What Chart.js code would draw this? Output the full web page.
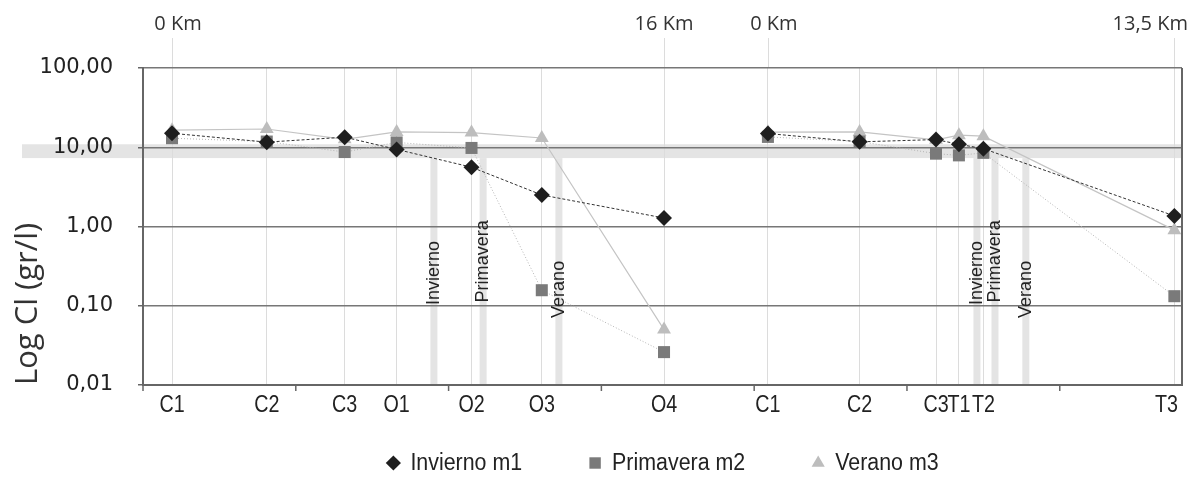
<!DOCTYPE html>
<html>
<head>
<meta charset="utf-8">
<script src="https://cdn.jsdelivr.net/npm/chart.js@4.4.1/dist/chart.umd.min.js"></script>
<style>
  html, body { margin: 0; padding: 0; background: #fff; }
  #wrap { width: 1194px; height: 477px; }
</style>
</head>
<body>
<div id="wrap"><canvas id="myChart" width="1194" height="477"></canvas></div>
<script>
// stations along the two transects (x = position along the axis)
const stations = ['C1', 'C2', 'C3', 'O1', 'O2', 'O3', 'O4', 'C1', 'C2', 'C3', 'T1', 'T2', 'T3'];
const xPos = [0.95, 4.05, 6.6, 8.3, 10.75, 13.05, 17.05, 20.45, 23.45, 25.95, 26.7, 27.5, 33.75];
const breakAfter = 6; // no line between O4 and the second C1

const invierno = [15.0, 11.6, 13.4, 9.4, 5.6, 2.5, 1.28, 14.9, 11.7, 12.5, 10.9, 9.6, 1.36];
const primavera = [13.0, 11.8, 8.7, 11.5, 9.8, 0.157, 0.026, 13.5, 11.8, 8.3, 7.9, 8.5, 0.132];
const verano = [16.4, 17.0, 12.6, 15.6, 15.3, 13.1, 0.050, 15.5, 15.6, 12.4, 14.2, 13.8, 0.90];

const yTicks = [0.01, 0.1, 1, 10, 100];
const kmLabels = ['0 Km', '16 Km', '0 Km', '13,5 Km'];
const kmIndex = [0, 6, 7, 12];

const seasonNames = ['Invierno', 'Primavera', 'Verano', 'Invierno', 'Primavera', 'Verano'];
const seasonX = [9.52, 11.13, 13.61, 27.29, 27.88, 28.89];
const band = [7.3, 10.9]; // grey band round 10 gr/l

const sans = "'Liberation Sans', Arial, sans-serif";

function toPoints(vals) {
  const pts = [];
  vals.forEach((v, i) => {
    pts.push({x: xPos[i], y: v});
    if (i === breakAfter) pts.push({x: (xPos[i] + xPos[i + 1]) / 2, y: null});
  });
  return pts;
}

// text squeezed sideways, like the narrow font of the original
function narrowText(ctx, txt, x, y, sx) {
  ctx.save();
  ctx.translate(x, y);
  ctx.scale(sx, 1);
  ctx.fillText(txt, 0, 0);
  ctx.restore();
}

const extras = {
  id: 'extras',
  beforeDraw(chart) {
    const {ctx, chartArea: a, scales: {x, y}} = chart;
    ctx.save();
    const yHi = y.getPixelForValue(band[1]);
    const yLo = y.getPixelForValue(band[0]);
    ctx.fillStyle = '#e4e4e4';
    ctx.fillRect(22, yHi, a.right - 22, yLo - yHi);
    seasonX.forEach(v => {
      const px = x.getPixelForValue(v);
      ctx.fillRect(px - 3.5, yLo, 7, a.bottom - yLo);
    });
    // vertical lines reaching up to the km labels
    ctx.strokeStyle = '#dcdcdc';
    ctx.lineWidth = 1;
    kmIndex.forEach(i => {
      const px = Math.round(x.getPixelForValue(xPos[i])) + 0.5;
      ctx.beginPath();
      ctx.moveTo(px, 38);
      ctx.lineTo(px, a.top);
      ctx.stroke();
    });
    ctx.restore();
  },
  afterDraw(chart) {
    const {ctx, chartArea: a, scales: {x, y}} = chart;
    ctx.save();
    // right frame
    ctx.strokeStyle = '#666';
    ctx.lineWidth = 2;
    ctx.beginPath();
    ctx.moveTo(a.right, a.top);
    ctx.lineTo(a.right, a.bottom);
    ctx.stroke();
    // tick marks every 5 units on x
    ctx.lineWidth = 1.5;
    for (let v = 0; v <= 34; v += 5) {
      const px = x.getPixelForValue(v);
      ctx.beginPath();
      ctx.moveTo(px, a.bottom);
      ctx.lineTo(px, a.bottom + 6);
      ctx.stroke();
    }
    // station names under the axis
    ctx.fillStyle = '#222';
    ctx.font = '24px ' + sans;
    ctx.textAlign = 'center';
    ctx.textBaseline = 'alphabetic';
    stations.forEach((s, i) => {
      const w = ctx.measureText(s).width * 0.82;
      let px = x.getPixelForValue(xPos[i]);
      if (px + w / 2 > a.right - 4) px = a.right - 4 - w / 2;
      narrowText(ctx, s, px, 412, 0.82);
    });
    // season labels, rotated
    ctx.font = '19px ' + sans;
    ctx.textAlign = 'left';
    ctx.textBaseline = 'middle';
    const bottoms = {Invierno: 0.102, Primavera: 0.11, Verano: 0.07};
    seasonNames.forEach((s, i) => {
      const px = x.getPixelForValue(seasonX[i]);
      const py = y.getPixelForValue(bottoms[s]);
      ctx.save();
      ctx.translate(px, py);
      ctx.rotate(-Math.PI / 2);
      ctx.scale(0.95, 1);
      ctx.fillText(s, 0, 0);
      ctx.restore();
    });
    // km labels on top
    ctx.font = "20px 'Open Sans', sans-serif";
    ctx.fillStyle = '#333';
    ctx.textBaseline = 'alphabetic';
    kmIndex.forEach((idx, k) => {
      const w = ctx.measureText(kmLabels[k]).width;
      let px = x.getPixelForValue(xPos[idx]) - w / 2;
      if (kmLabels[k] === '0 Km') px += 6;
      if (px + w > chart.width - 6) px = chart.width - 6 - w;
      ctx.fillText(kmLabels[k], px, 30);
    });
    // legend
    ctx.font = '23.5px ' + sans;
    const sx = 0.91;
    const items = chart.data.datasets;
    const mark = 14, gapIn = 10, gapOut = 66;
    const widths = items.map(d => mark + gapIn + ctx.measureText(d.label).width * sx);
    const total = widths.reduce((s, w) => s + w, 0) + gapOut * (items.length - 1);
    let cx = (a.left + a.right) / 2 - total / 2;
    const ly = 463;
    items.forEach((d, i) => {
      ctx.fillStyle = d.pointBackgroundColor;
      Chart.helpers.drawPoint(ctx, {
        pointStyle: d.pointStyle, radius: d.pointRadius * 0.95, rotation: 0, borderWidth: 0
      }, cx + mark / 2, ly);
      ctx.fillStyle = '#222';
      ctx.textAlign = 'left';
      ctx.textBaseline = 'middle';
      narrowText(ctx, d.label, cx + mark + gapIn, ly + 1, sx);
      cx += widths[i] + gapOut;
    });
    ctx.restore();
  }
};

new Chart(document.getElementById('myChart'), {
  type: 'line',
  data: {
    datasets: [{
      label: 'Invierno m1',
      data: toPoints(invierno),
      borderColor: '#333',
      borderWidth: 1,
      borderDash: [3, 2],
      pointStyle: 'rectRot',
      pointRadius: 8,
      pointBackgroundColor: '#1e1e1e',
      pointBorderWidth: 0
    }, {
      label: 'Primavera m2',
      data: toPoints(primavera),
      borderColor: '#b5b5b5',
      borderWidth: 1,
      borderDash: [1, 2],
      pointStyle: 'rect',
      pointRadius: 8.5,
      pointBackgroundColor: '#7a7a7a',
      pointBorderWidth: 0
    }, {
      label: 'Verano m3',
      data: toPoints(verano),
      borderColor: '#c4c4c4',
      borderWidth: 1.2,
      pointStyle: 'triangle',
      pointRadius: 8,
      pointBackgroundColor: '#bdbdbd',
      pointBorderWidth: 0
    }]
  },
  options: {
    responsive: false,
    animation: false,
    spanGaps: false,
    layout: {padding: {top: 68, right: 12, left: 0, bottom: 0}},
    plugins: {legend: {display: false}, tooltip: {enabled: false}},
    scales: {
      x: {
        type: 'linear',
        min: 0,
        max: 34,
        afterBuildTicks: s => { s.ticks = xPos.map(v => ({value: v})); },
        afterFit: s => { s.height = 92; },
        grid: {color: '#dcdcdc', lineWidth: 1, drawTicks: false},
        border: {color: '#666', width: 2},
        ticks: {display: false, autoSkip: false}
      },
      y: {
        type: 'logarithmic',
        min: 0.01,
        max: 100,
        afterBuildTicks: s => { s.ticks = yTicks.map(v => ({value: v})); },
        afterFit: s => { s.width = 143; },
        grid: {color: '#777', lineWidth: 1.5, tickLength: 5, tickColor: '#666'},
        border: {color: '#666', width: 2},
        ticks: {
          padding: 25,
          color: '#222',
          font: {family: "'DejaVu Sans', sans-serif", size: 21},
          callback: v => Number(v).toFixed(2).replace('.', ',')
        },
        title: {
          display: true,
          text: 'Log Cl (gr/l)',
          align: 'start',
          color: '#333',
          font: {family: "'Open Sans', sans-serif", size: 31},
          padding: {top: 10, bottom: 0}
        }
      }
    }
  },
  plugins: [extras]
});
</script>
</body>
</html>
